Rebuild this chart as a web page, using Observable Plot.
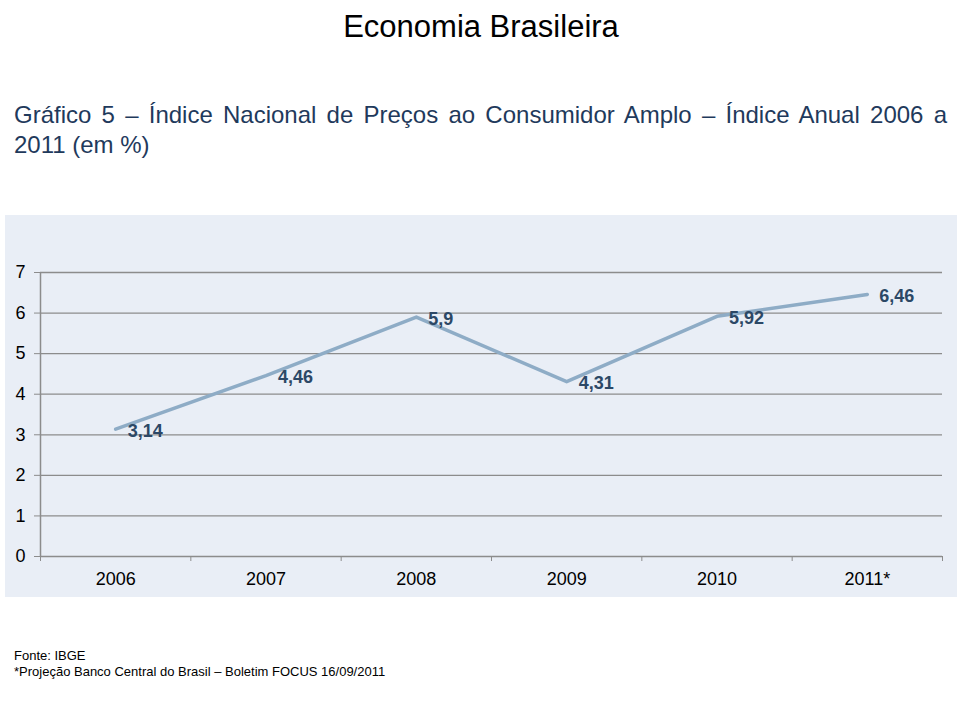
<!DOCTYPE html>
<html>
<head>
<meta charset="utf-8">
<script src="https://cdn.jsdelivr.net/npm/d3@7"></script>
<script src="https://cdn.jsdelivr.net/npm/@observablehq/plot@0.6"></script>
<style>
  html, body { margin: 0; padding: 0; background: #ffffff; }
  #page { position: relative; width: 960px; height: 716px; overflow: hidden; font-family: "Liberation Sans", Arial, sans-serif; }
  #title { position: absolute; left: 0; width: 962px; top: 11px; font-size: 31px; line-height: 31px; text-align: center; color: #000; }
  .sub { position: absolute; left: 14px; width: 933px; font-size: 24px; line-height: 24px; color: #1f3a5c; white-space: nowrap; }
  #sub1 { top: 103px; text-align: justify; text-align-last: justify; white-space: normal; }
  #sub2 { top: 133px; }
  .foot { position: absolute; left: 14px; font-size: 13px; line-height: 13px; color: #000; white-space: nowrap; }
  #chart { position: absolute; left: 5px; top: 215px; width: 952px; height: 382px; background: #e9eef6; }
  #chart svg { display: block; background: transparent; }
</style>
</head>
<body>
<div id="page">
  <div id="title">Economia Brasileira</div>
  <div class="sub" id="sub1">Gráfico 5 – Índice Nacional de Preços ao Consumidor Amplo – Índice Anual 2006 a</div>
  <div class="sub" id="sub2">2011 (em %)</div>
  <div id="chart"></div>
  <div class="foot" style="top:649px">Fonte: IBGE</div>
  <div class="foot" style="top:665px">*Projeção Banco Central do Brasil – Boletim FOCUS 16/09/2011</div>
</div>
<script>
const years = ["2006", "2007", "2008", "2009", "2010", "2011*"];
const ipca = [3.14, 4.46, 5.9, 4.31, 5.92, 6.46];
const yTicks = [0, 1, 2, 3, 4, 5, 6, 7];

const data = years.map((year, i) => ({
  i,
  year,
  value: ipca[i],
  label: String(ipca[i]).replace(".", ",")
}));
const centers = years.map((_, i) => i);
const bounds = years.map((_, i) => i - 0.5).concat([years.length - 0.5]);
const gridColor = "#8c8c8c";

const chart = Plot.plot({
  width: 952,
  height: 382,
  marginLeft: 35,
  marginRight: 15,
  marginTop: 57,
  marginBottom: 41,
  style: { fontFamily: "Liberation Sans, Arial, sans-serif", fontSize: "18px", color: "#000", background: "transparent" },
  x: { type: "linear", domain: [-0.5, years.length - 0.5] },
  y: { domain: [0, 7] },
  marks: [
    Plot.ruleY(yTicks.filter(d => d > 0), { stroke: gridColor, strokeWidth: 1.3 }),
    Plot.ruleY([0], { stroke: gridColor, strokeWidth: 1.5 }),
    Plot.ruleX([bounds[0]], { stroke: gridColor, strokeWidth: 1.5 }),
    Plot.axisY({ ticks: yTicks, tickSize: 6, tickPadding: 9, stroke: gridColor, fill: "#000", fontSize: 18, label: null, tickFormat: d => String(d) }),
    Plot.axisX({ ticks: bounds, tickSize: 5, tickFormat: () => "", stroke: gridColor, label: null }),
    Plot.axisX({ ticks: centers, tickSize: 0, tickPadding: 16, tickFormat: i => years[i], fill: "#000", fontSize: 18, label: null }),
    Plot.line(data, { x: "i", y: "value", stroke: "#8eacc6", strokeWidth: 3.5, strokeLinejoin: "round" }),
    Plot.text(data, { x: "i", y: "value", text: "label", textAnchor: "start", dx: 12, dy: 2, fill: "#2c4866", fontWeight: "bold", fontSize: 18 })
  ]
});
document.getElementById("chart").appendChild(chart);
</script>
</body>
</html>
